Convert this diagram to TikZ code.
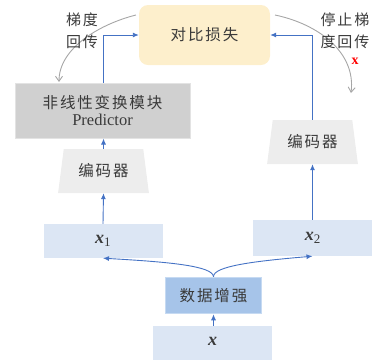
\documentclass[tikz,border=0pt]{standalone}
\usepackage{fontspec}
\setmainfont{Liberation Serif}
\newfontfamily\cjk[LetterSpace=12]{Noto Sans CJK SC}
\usetikzlibrary{shapes.geometric,arrows.meta}
\definecolor{bluearr}{HTML}{4472C4}
\definecolor{greyarr}{HTML}{A6A6A6}
\definecolor{lossfill}{HTML}{FDEFCC}
\definecolor{predfill}{HTML}{D0D0D0}
\definecolor{encfill}{HTML}{EDEDED}
\definecolor{xfill}{HTML}{DCE6F4}
\definecolor{augfill}{HTML}{A6C4E9}
\definecolor{augdraw}{HTML}{C6DAF2}
\definecolor{txt}{HTML}{3A3A3A}
\newcommand{\xvar}[1]{{\fontsize{18}{20}\selectfont\bfseries\itshape x}\raisebox{-3.5pt}{\fontsize{13}{14}\selectfont #1}}
\begin{document}
\begin{tikzpicture}[x=1pt,y=-1pt,
  box/.style={rectangle, inner sep=0pt, text=txt, font=\fontsize{15.5}{18}\selectfont},
  enc/.style={trapezium, trapezium stretches=true, trapezium left angle=76, trapezium right angle=76,
     minimum width=91pt, minimum height=44pt, inner sep=0pt, fill=encfill, text=txt, font=\fontsize{15.5}{18}\selectfont},
  barrow/.style={draw=bluearr, line width=0.9pt, -{Latex[length=6pt,width=5pt]}},
  garrow/.style={draw=greyarr, line width=0.9pt, -{Straight Barb[length=5pt,width=7pt]}},
  lab/.style={text=txt, align=center, font=\fontsize{15}{22}\selectfont}]
\useasboundingbox (0,0) rectangle (373,360);

\node[box, fill=lossfill, rounded corners=9pt, minimum width=131pt, minimum height=60pt] (loss) at (204.5,35) {\cjk 对比损失};
\node[box, fill=predfill, draw=predfill!60!white, line width=1pt, minimum width=175pt, minimum height=55pt, align=center] (pred) at (102.5,110.5)
  {\cjk 非线性变换模块\\[-1pt]\fontsize{16.5}{18}\selectfont Predictor};
\node[enc] (enc1) at (103.5,171) {\cjk 编码器};
\node[enc] (enc2) at (312.5,142) {\cjk 编码器};
\node[box, fill=xfill, minimum width=119pt, minimum height=34pt] (x1) at (103,241) {\xvar{1}};
\node[box, fill=xfill, minimum width=119pt, minimum height=36pt] (x2) at (312.5,238) {\xvar{2}};
\node[box, fill=augfill, draw=augdraw, line width=1.5pt, minimum width=96pt, minimum height=36pt] (aug) at (213.5,295.5) {\cjk 数据增强};
\node[box, fill=xfill, minimum width=119pt, minimum height=34pt] (x) at (212.5,343) {\xvar{}};

% blue arrows
\draw[barrow] (x.north -| aug) -- (aug.south);
\draw[barrow] (aug.north) .. controls (213,266) and (170,262) .. (x1.south);
\draw[barrow] (aug.north) .. controls (213,266) and (256,261) .. (x2.south);
\draw[barrow] (x1.north) -- (enc1.bottom side);
\draw[barrow] (x2.north) -- (enc2.south);
\draw[barrow] (enc1.north) -- (pred.south -| enc1.north);
\draw[barrow] (pred.north -| enc1.north) |- (loss.west);
\draw[barrow] (enc2.north) |- (loss.east);

% grey gradient arrows
\coordinate (gl0) at (136,15);
\coordinate (gl1) at (59,82);
\draw[garrow] (gl0) .. controls (100,24) and (59,48) .. (gl1);
\coordinate (gr0) at (275,15);
\coordinate (gr1) at (351,93);
\draw[garrow] (gr0) .. controls (318,24) and (356,52) .. (gr1);

\node[lab] (lg) at (82,31) {\cjk 梯度\\\cjk 回传};
\node[lab] (rg) at (345,31) {\cjk 停止梯\\\cjk 度回传};
\node[text=red, font=\fontsize{14}{14}\selectfont\bfseries] (xx) at (355,61) {x};
\end{tikzpicture}
\end{document}
